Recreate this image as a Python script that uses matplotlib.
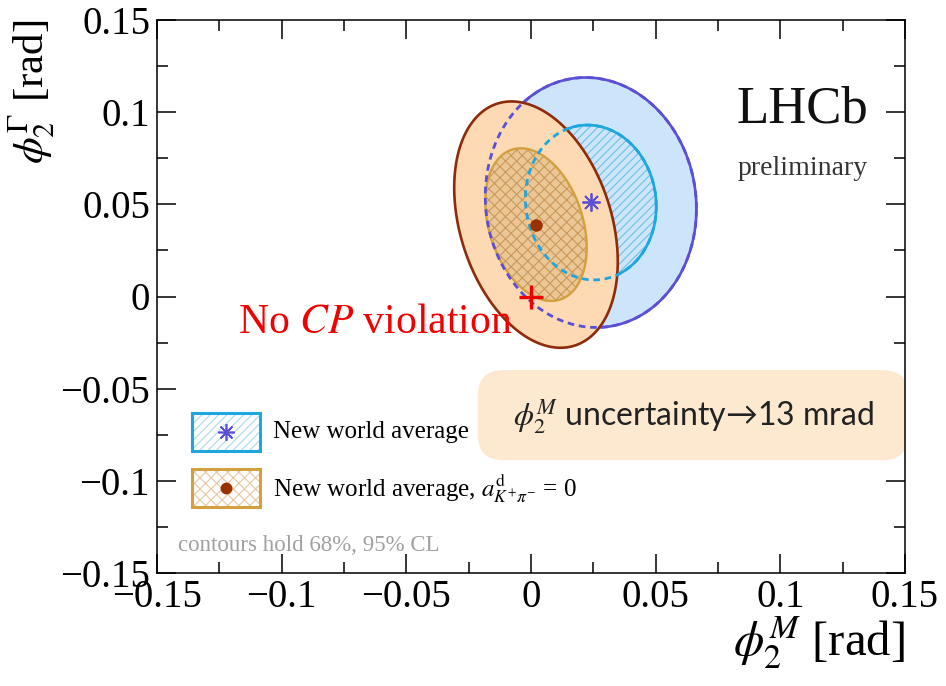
import numpy as np
import matplotlib; matplotlib.use("Agg")
import matplotlib.pyplot as plt
from matplotlib.patches import Polygon, FancyBboxPatch, Rectangle
from matplotlib.ticker import FixedLocator, AutoMinorLocator

plt.rcParams.update({"font.family": "serif",
                     "font.serif": ["Liberation Serif", "DejaVu Serif"],
                     "mathtext.fontset": "stix",
                     "axes.linewidth": 1.1,
                     "hatch.linewidth": 0.8})

# new world average (phi2M, phi2Gamma): centre, widths, correlation
WA_CENTRE = (0.024, 0.051)
WA_SIGMA = (0.0173, 0.0277)
WA_RHO = -0.05
# same, with a^d_{K+pi-} = 0
AD0_CENTRE = (0.002, 0.039)
AD0_SIGMA = (0.0134, 0.0273)
AD0_RHO = -0.30
# 2D delta-chi2 for 68% and 95% CL
DCHI2 = [2.30, 5.99]

NO_CP = (0.0, 0.0)
TICKS = [-0.15, -0.1, -0.05, 0, 0.05, 0.1, 0.15]
TICK_LABELS = ["\u22120.15", "\u22120.1", "\u22120.05", "0", "0.05", "0.1", "0.15"]

BLUE_FILL = "#cde5fb"; BLUE_EDGE = "#5a4fd6"; CYAN = "#1ea6df"; CYAN_H = "#6cc0e6"
PEACH = "#fdd9b4"; BROWN = "#8c2c0a"; TAN = "#ebc795"; GOLD = "#d2a03e"; TAN_H = "#c9995c"
DOT = "#9a3200"


def contour(centre, sigma, rho, dchi2, n=400):
    t = np.linspace(0, 2 * np.pi, n)
    k = np.sqrt(dchi2)
    x = centre[0] + k * sigma[0] * np.cos(t)
    y = centre[1] + k * sigma[1] * (rho * np.cos(t) + np.sqrt(1 - rho ** 2) * np.sin(t))
    return np.column_stack([x, y])


fig = plt.figure(figsize=(9.46, 6.86), dpi=100)
ax = fig.add_axes([157 / 946, 1 - 573 / 686, 748 / 946, 553 / 686])
ax.set_xlim(-0.15, 0.15); ax.set_ylim(-0.15, 0.15)

wa68 = contour(WA_CENTRE, WA_SIGMA, WA_RHO, DCHI2[0])
wa95 = contour(WA_CENTRE, WA_SIGMA, WA_RHO, DCHI2[1])
ad68 = contour(AD0_CENTRE, AD0_SIGMA, AD0_RHO, DCHI2[0])
ad95 = contour(AD0_CENTRE, AD0_SIGMA, AD0_RHO, DCHI2[1])

# world average: filled 95%, hatched 68%
ax.add_patch(Polygon(wa95, closed=True, facecolor=BLUE_FILL, edgecolor=BLUE_EDGE, lw=1.9, zorder=1))
ax.add_patch(Polygon(wa68, closed=True, facecolor="none", edgecolor=CYAN_H, lw=0, hatch="////", zorder=2))
ax.add_patch(Polygon(wa68, closed=True, facecolor="none", edgecolor=CYAN, lw=1.9, zorder=2))
# a^d = 0 on top
ax.add_patch(Polygon(ad95, closed=True, facecolor=PEACH, edgecolor=BROWN, lw=1.9, zorder=3))
ax.add_patch(Polygon(ad68, closed=True, facecolor=TAN, edgecolor="none", zorder=4))
ax.add_patch(Polygon(ad68, closed=True, facecolor="none", edgecolor=TAN_H, lw=0, hatch="xxx", zorder=4))
ax.add_patch(Polygon(ad68, closed=True, facecolor="none", edgecolor=GOLD, lw=1.7, zorder=4))
# hidden parts of the world-average contours, dashed
ax.plot(wa95[:, 0], wa95[:, 1], color=BLUE_EDGE, lw=2.0, dashes=(2.4, 1.7), zorder=5)
ax.plot(wa68[:, 0], wa68[:, 1], color=CYAN, lw=2.0, dashes=(2.4, 1.7), zorder=5)

ax.plot(*WA_CENTRE, marker=(8, 2, 0), ms=13, mew=1.3, color=BLUE_EDGE, zorder=6)
ax.plot(*AD0_CENTRE, marker="o", ms=8, color=DOT, zorder=6)
ax.plot(*NO_CP, marker="+", ms=17, mew=2.4, color="#f00000", zorder=7)

ax.text(-0.0076, -0.0198, r"No $\mathit{CP}$ violation", color="#f00000", fontsize=30,
        ha="right", va="baseline", zorder=7)

ax.text(0.775, 0.814, "LHCb", transform=ax.transAxes, fontsize=38, color="#111111", va="baseline")
ax.text(0.776, 0.72, "preliminary", transform=ax.transAxes, fontsize=20, color="#333333", va="baseline")

# highlight box
ax.add_patch(FancyBboxPatch((0.429, 0.204), 0.575, 0.163, transform=ax.transAxes,
                            boxstyle="round,pad=0,rounding_size=0.034", mutation_aspect=748 / 553,
                            facecolor="#fde9cf", edgecolor="none", zorder=2))
ax.text(0.717, 0.283, r"$\phi_2^M$ uncertainty" + "\u2192" + "13 mrad",
        transform=ax.transAxes, fontsize=23, family=["Lato", "DejaVu Sans"], color="#222222",
        ha="center", va="center", zorder=3)

# legend
for y0, edge, hcol, hatch in [(0.2206, CYAN, "#a9d9ef", "////"), (0.119, GOLD, "#e8c7a0", "xxx")]:
    ax.add_patch(Rectangle((0.0468, y0), 0.0909, 0.0687, transform=ax.transAxes,
                           facecolor="white", edgecolor=hcol, lw=0, hatch=hatch, zorder=3))
    ax.add_patch(Rectangle((0.0468, y0), 0.0909, 0.0687, transform=ax.transAxes,
                           facecolor="none", edgecolor=edge, lw=2.2, zorder=3))
ax.plot(0.0922, 0.255, transform=ax.transAxes, marker=(8, 2, 0), ms=12, mew=1.2, color=BLUE_EDGE, zorder=4)
ax.plot(0.0922, 0.1534, transform=ax.transAxes, marker="o", ms=7.5, color=DOT, zorder=4)
ax.text(0.155, 0.255, "New world average", transform=ax.transAxes, fontsize=18, va="center")
ax.text(0.155, 0.1534, r"New world average, $a^{\mathrm{d}}_{K^{+}\pi^{-}}$ = 0",
        transform=ax.transAxes, fontsize=18, va="center")
ax.text(0.028, 0.04, "contours hold 68%, 95% CL", transform=ax.transAxes, fontsize=16.5,
        color="#a0a0a0", va="baseline")

# axes
ax.xaxis.set_major_locator(FixedLocator(TICKS)); ax.set_xticklabels(TICK_LABELS)
ax.yaxis.set_major_locator(FixedLocator(TICKS)); ax.set_yticklabels(TICK_LABELS)
ax.xaxis.set_minor_locator(AutoMinorLocator(2)); ax.yaxis.set_minor_locator(AutoMinorLocator(2))
ax.tick_params(which="both", direction="in", top=True, right=True, width=1.1)
ax.tick_params(which="major", length=14, labelsize=28)
ax.tick_params(which="minor", length=8)
ax.tick_params(axis="x", pad=4)
ax.tick_params(axis="y", pad=5)

ax.set_xlabel(r"$\phi_2^M$ [rad]", fontsize=35, loc="right", labelpad=-2)
ax.set_ylabel(r"$\phi_2^\Gamma$ [rad]", fontsize=31, loc="top", labelpad=2)

fig.savefig("out.png", dpi=100, facecolor="white")
